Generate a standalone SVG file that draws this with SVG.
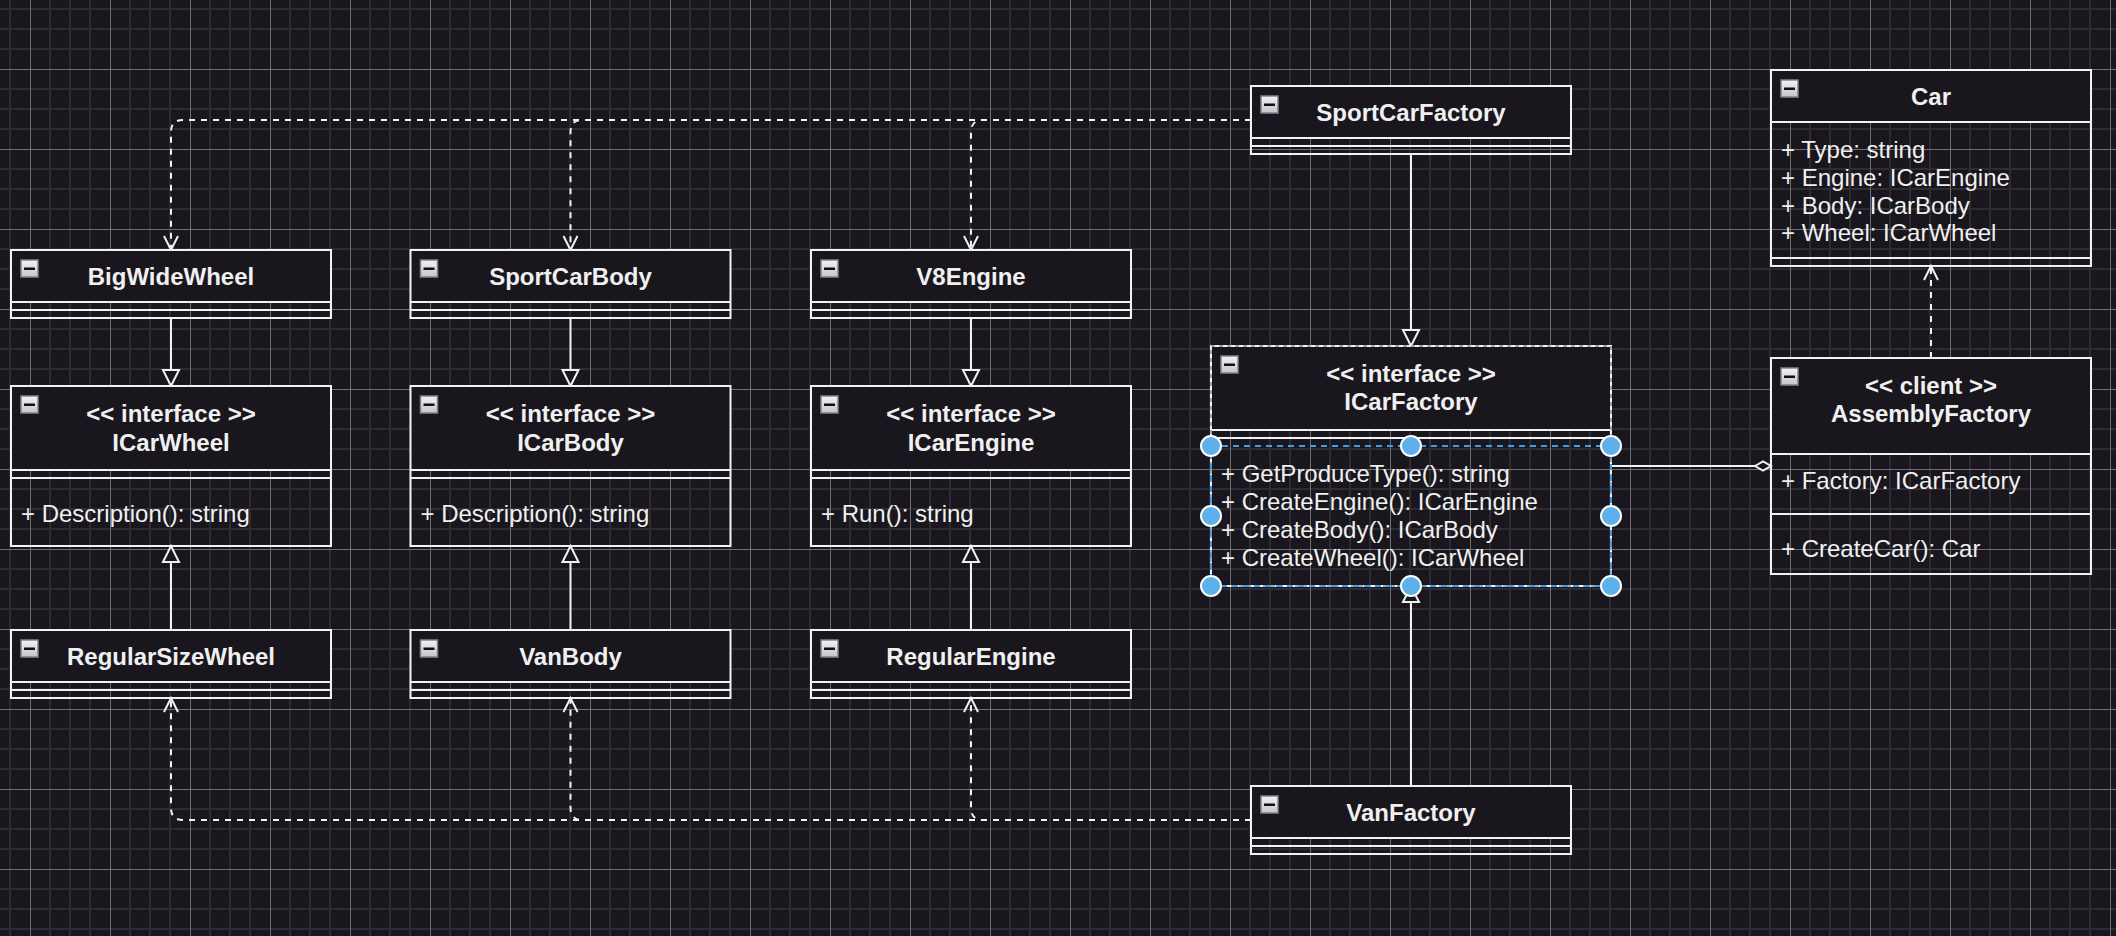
<svg xmlns="http://www.w3.org/2000/svg" width="2116" height="936" viewBox="0 0 2116 936">
<style>
.hdr{fill:#19171d;stroke:none}
.box{fill:none;stroke:#f2f2f2;stroke-width:2}
.sep{stroke:#f2f2f2;stroke-width:2;fill:none}
.t{font-family:"Liberation Sans",Arial,sans-serif;font-size:24px;fill:#f0f0f0}
.b{font-weight:bold;text-anchor:middle}
.e{fill:none;stroke:#f2f2f2;stroke-width:2}
.d{stroke-dasharray:6 6}
.tg{fill:url(#tgGrad);stroke:#7c8491;stroke-width:1.5}
.tgm{fill:#111}
.hd{fill:#5eb0ec;stroke:#ffffff;stroke-width:2}
</style>
<defs>
<pattern id="grid" x="30" y="69" width="80" height="80" patternUnits="userSpaceOnUse">
<rect x="0" y="0" width="80" height="80" fill="#19171d"/>
<rect x="19" y="0" width="2" height="80" fill="#2d2c32"/>
<rect x="39" y="0" width="2" height="80" fill="#2d2c32"/>
<rect x="59" y="0" width="2" height="80" fill="#2d2c32"/>
<rect x="0" y="19" width="80" height="2" fill="#2d2c32"/>
<rect x="0" y="39" width="80" height="2" fill="#2d2c32"/>
<rect x="0" y="59" width="80" height="2" fill="#2d2c32"/>
<rect x="0" y="0" width="1" height="80" fill="#6f6e74"/>
<rect x="0" y="0" width="80" height="1" fill="#6f6e74"/>
</pattern>
<linearGradient id="tgGrad" x1="0" y1="0" x2="0" y2="1">
<stop offset="0" stop-color="#f4f4f4"/>
<stop offset="1" stop-color="#c4c6ca"/>
</linearGradient>
<marker id="open" viewBox="-2 -2 20 18" refX="14" refY="7" markerWidth="20" markerHeight="18" markerUnits="userSpaceOnUse" orient="auto" overflow="visible">
<path d="M0,0 L14,7 L0,14" fill="none" stroke="#f2f2f2" stroke-width="2"/>
</marker>
<marker id="tri" viewBox="-2 -2 20 20" refX="16" refY="8" markerWidth="20" markerHeight="20" markerUnits="userSpaceOnUse" orient="auto" overflow="visible">
<path d="M0,0 L16,8 L0,16 Z" fill="#19171d" stroke="#f2f2f2" stroke-width="2"/>
</marker>
<marker id="dia" viewBox="-2 -2 20 13" refX="16" refY="4.5" markerWidth="20" markerHeight="13" markerUnits="userSpaceOnUse" orient="auto" overflow="visible">
<path d="M0,4.5 L8,0 L16,4.5 L8,9 Z" fill="#19171d" stroke="#f2f2f2" stroke-width="2"/>
</marker>
</defs>

<rect x="0" y="0" width="2116" height="936" fill="url(#grid)"/>

<g id="connectors">
<path class="e d" d="M1251,120 H183 Q171,120 171,132 V250" marker-end="url(#open)"/>
<path class="e d" d="M1251,120 H582.5 Q570.5,120 570.5,132 V250" marker-end="url(#open)"/>
<path class="e d" d="M1251,120 H983 Q971,120 971,132 V250" marker-end="url(#open)"/>
<path class="e d" d="M1251,820 H183 Q171,820 171,808 V698" marker-end="url(#open)"/>
<path class="e d" d="M1251,820 H582.5 Q570.5,820 570.5,808 V698" marker-end="url(#open)"/>
<path class="e d" d="M1251,820 H983 Q971,820 971,808 V698" marker-end="url(#open)"/>
<path class="e d" d="M1931,358 V266" marker-end="url(#open)"/>
<path class="e" d="M171,318 V386" marker-end="url(#tri)"/>
<path class="e" d="M570.5,318 V386" marker-end="url(#tri)"/>
<path class="e" d="M971,318 V386" marker-end="url(#tri)"/>
<path class="e" d="M171,630 V546" marker-end="url(#tri)"/>
<path class="e" d="M570.5,630 V546" marker-end="url(#tri)"/>
<path class="e" d="M971,630 V546" marker-end="url(#tri)"/>
<path class="e" d="M1411,154 V346" marker-end="url(#tri)"/>
<path class="e" d="M1411,786 V586" marker-end="url(#tri)"/>
<path class="e" d="M1611,466 H1771" marker-end="url(#dia)"/>
</g>

<g id="BigWideWheel">
<rect class="hdr" x="11" y="250" width="320" height="52"/>
<rect class="box" x="11" y="250" width="320" height="68"/>
<path class="sep" d="M11,302 H331 M11,310 H331"/>
<rect class="tg" x="21" y="260" width="17" height="17"/><rect class="tgm" x="24" y="267.5" width="11" height="2.5"/>
<text class="t b" x="171" y="285">BigWideWheel</text>
</g>

<g id="SportCarBody">
<rect class="hdr" x="410.5" y="250" width="320" height="52"/>
<rect class="box" x="410.5" y="250" width="320" height="68"/>
<path class="sep" d="M410.5,302 H730.5 M410.5,310 H730.5"/>
<rect class="tg" x="420.5" y="260" width="17" height="17"/><rect class="tgm" x="423.5" y="267.5" width="11" height="2.5"/>
<text class="t b" x="570.5" y="285">SportCarBody</text>
</g>

<g id="V8Engine">
<rect class="hdr" x="811" y="250" width="320" height="52"/>
<rect class="box" x="811" y="250" width="320" height="68"/>
<path class="sep" d="M811,302 H1131 M811,310 H1131"/>
<rect class="tg" x="821" y="260" width="17" height="17"/><rect class="tgm" x="824" y="267.5" width="11" height="2.5"/>
<text class="t b" x="971" y="285">V8Engine</text>
</g>

<g id="ICarWheel">
<rect class="hdr" x="11" y="386" width="320" height="84"/>
<rect class="box" x="11" y="386" width="320" height="160"/>
<path class="sep" d="M11,470 H331 M11,478 H331"/>
<rect class="tg" x="21" y="396" width="17" height="17"/><rect class="tgm" x="24" y="403.5" width="11" height="2.5"/>
<text class="t b" x="171" y="422">&lt;&lt; interface &gt;&gt;</text>
<text class="t b" x="171" y="450.5">ICarWheel</text>
<text class="t" x="21" y="522">+ Description(): string</text>
</g>

<g id="ICarBody">
<rect class="hdr" x="410.5" y="386" width="320" height="84"/>
<rect class="box" x="410.5" y="386" width="320" height="160"/>
<path class="sep" d="M410.5,470 H730.5 M410.5,478 H730.5"/>
<rect class="tg" x="420.5" y="396" width="17" height="17"/><rect class="tgm" x="423.5" y="403.5" width="11" height="2.5"/>
<text class="t b" x="570.5" y="422">&lt;&lt; interface &gt;&gt;</text>
<text class="t b" x="570.5" y="450.5">ICarBody</text>
<text class="t" x="420.5" y="522">+ Description(): string</text>
</g>

<g id="ICarEngine">
<rect class="hdr" x="811" y="386" width="320" height="84"/>
<rect class="box" x="811" y="386" width="320" height="160"/>
<path class="sep" d="M811,470 H1131 M811,478 H1131"/>
<rect class="tg" x="821" y="396" width="17" height="17"/><rect class="tgm" x="824" y="403.5" width="11" height="2.5"/>
<text class="t b" x="971" y="422">&lt;&lt; interface &gt;&gt;</text>
<text class="t b" x="971" y="450.5">ICarEngine</text>
<text class="t" x="821" y="522">+ Run(): string</text>
</g>

<g id="RegularSizeWheel">
<rect class="hdr" x="11" y="630" width="320" height="52"/>
<rect class="box" x="11" y="630" width="320" height="68"/>
<path class="sep" d="M11,682 H331 M11,690 H331"/>
<rect class="tg" x="21" y="640" width="17" height="17"/><rect class="tgm" x="24" y="647.5" width="11" height="2.5"/>
<text class="t b" x="171" y="665">RegularSizeWheel</text>
</g>

<g id="VanBody">
<rect class="hdr" x="410.5" y="630" width="320" height="52"/>
<rect class="box" x="410.5" y="630" width="320" height="68"/>
<path class="sep" d="M410.5,682 H730.5 M410.5,690 H730.5"/>
<rect class="tg" x="420.5" y="640" width="17" height="17"/><rect class="tgm" x="423.5" y="647.5" width="11" height="2.5"/>
<text class="t b" x="570.5" y="665">VanBody</text>
</g>

<g id="RegularEngine">
<rect class="hdr" x="811" y="630" width="320" height="52"/>
<rect class="box" x="811" y="630" width="320" height="68"/>
<path class="sep" d="M811,682 H1131 M811,690 H1131"/>
<rect class="tg" x="821" y="640" width="17" height="17"/><rect class="tgm" x="824" y="647.5" width="11" height="2.5"/>
<text class="t b" x="971" y="665">RegularEngine</text>
</g>

<g id="SportCarFactory">
<rect class="hdr" x="1251" y="86" width="320" height="52"/>
<rect class="box" x="1251" y="86" width="320" height="68"/>
<path class="sep" d="M1251,138 H1571 M1251,146 H1571"/>
<rect class="tg" x="1261" y="96" width="17" height="17"/><rect class="tgm" x="1264" y="103.5" width="11" height="2.5"/>
<text class="t b" x="1411" y="121">SportCarFactory</text>
</g>

<g id="VanFactory">
<rect class="hdr" x="1251" y="786" width="320" height="52"/>
<rect class="box" x="1251" y="786" width="320" height="68"/>
<path class="sep" d="M1251,838 H1571 M1251,846 H1571"/>
<rect class="tg" x="1261" y="796" width="17" height="17"/><rect class="tgm" x="1264" y="803.5" width="11" height="2.5"/>
<text class="t b" x="1411" y="821">VanFactory</text>
</g>

<g id="ICarFactory">
<rect class="hdr" x="1211" y="346" width="400" height="84"/>
<rect class="box" x="1211" y="346" width="400" height="240"/>
<path class="sep" d="M1211,430 H1611 M1211,438 H1611"/>
<rect x="1211" y="346" width="400" height="240" fill="none" stroke="#a9a9ad" stroke-width="2" stroke-dasharray="4 4"/>
<rect class="tg" x="1221" y="356" width="17" height="17"/><rect class="tgm" x="1224" y="363.5" width="11" height="2.5"/>
<text class="t b" x="1411" y="382">&lt;&lt; interface &gt;&gt;</text>
<text class="t b" x="1411" y="409.5">ICarFactory</text>
<text class="t" x="1221" y="482">+ GetProduceType(): string</text>
<text class="t" x="1221" y="510">+ CreateEngine(): ICarEngine</text>
<text class="t" x="1221" y="538">+ CreateBody(): ICarBody</text>
<text class="t" x="1221" y="565.5">+ CreateWheel(): ICarWheel</text>
<rect x="1211" y="446" width="400" height="140" fill="none" stroke="#3f9ded" stroke-width="2" stroke-dasharray="6 5"/>
<circle class="hd" cx="1211" cy="446" r="10"/>
<circle class="hd" cx="1411" cy="446" r="10"/>
<circle class="hd" cx="1611" cy="446" r="10"/>
<circle class="hd" cx="1211" cy="516" r="10"/>
<circle class="hd" cx="1611" cy="516" r="10"/>
<circle class="hd" cx="1211" cy="586" r="10"/>
<circle class="hd" cx="1411" cy="586" r="10"/>
<circle class="hd" cx="1611" cy="586" r="10"/>
</g>

<g id="Car">
<rect class="hdr" x="1771" y="70" width="320" height="52"/>
<rect class="box" x="1771" y="70" width="320" height="196"/>
<path class="sep" d="M1771,122 H2091 M1771,258 H2091"/>
<rect class="tg" x="1781" y="80" width="17" height="17"/><rect class="tgm" x="1784" y="87.5" width="11" height="2.5"/>
<text class="t b" x="1931" y="105">Car</text>
<text class="t" x="1781" y="158">+ Type: string</text>
<text class="t" x="1781" y="186">+ Engine: ICarEngine</text>
<text class="t" x="1781" y="213.5">+ Body: ICarBody</text>
<text class="t" x="1781" y="241">+ Wheel: ICarWheel</text>
</g>

<g id="AssemblyFactory">
<rect class="hdr" x="1771" y="358" width="320" height="96"/>
<rect class="box" x="1771" y="358" width="320" height="216"/>
<path class="sep" d="M1771,454 H2091 M1771,514 H2091"/>
<rect class="tg" x="1781" y="368" width="17" height="17"/><rect class="tgm" x="1784" y="375.5" width="11" height="2.5"/>
<text class="t b" x="1931" y="394">&lt;&lt; client &gt;&gt;</text>
<text class="t b" x="1931" y="421.5">AssemblyFactory</text>
<text class="t" x="1781" y="489">+ Factory: ICarFactory</text>
<text class="t" x="1781" y="557">+ CreateCar(): Car</text>
</g>
</svg>
